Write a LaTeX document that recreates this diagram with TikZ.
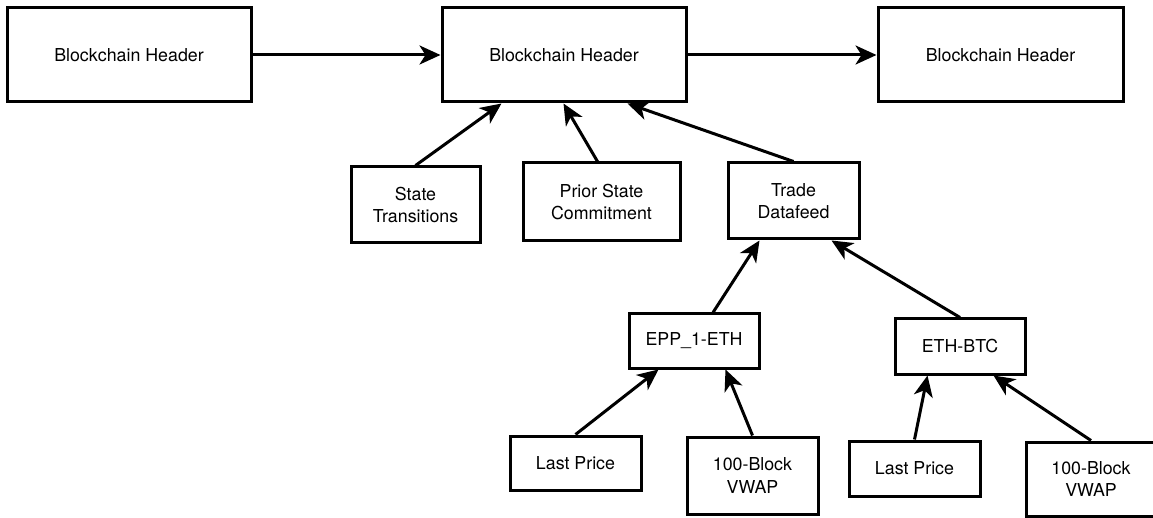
\documentclass[tikz,border=0pt]{standalone}
\usepackage{fontspec}
\setmainfont{TeX Gyre Heros}
\usetikzlibrary{arrows.meta}
\begin{document}
\begin{tikzpicture}[x=1pt,y=-1pt,
  box/.style={draw=black,line width=3pt,rectangle,align=center,inner sep=0pt,
    font=\fontsize{17.8pt}{22.7pt}\selectfont},
  conn/.style={line width=3pt,-{Stealth[length=21pt,width=19pt,inset=6pt]}}]
\useasboundingbox (0,0) rectangle (1153,518);
\node[box,minimum width=244pt,minimum height=94pt] (b1) at (129,55) {Blockchain Header};
\node[box,minimum width=244pt,minimum height=94pt] (b2) at (564,55) {Blockchain Header};
\node[box,minimum width=245pt,minimum height=94pt] (b3) at (1000.5,55) {Blockchain Header};
\node[box,minimum width=129pt,minimum height=76pt] (st) at (415.5,205) {State\\Transitions};
\node[box,minimum width=157pt,minimum height=78pt] (ps) at (601.5,202) {Prior State\\Commitment};
\node[box,minimum width=131pt,minimum height=76pt] (td) at (793.5,201) {Trade\\Datafeed};
\node[box,minimum width=130pt,minimum height=54pt] (epp) at (694,341) {EPP\_1-ETH};
\node[box,minimum width=130pt,minimum height=55pt] (eb) at (960,346.5) {ETH-BTC};
\node[box,minimum width=131pt,minimum height=54pt] (lp1) at (575.5,463) {Last Price};
\node[box,minimum width=131pt,minimum height=77pt] (vw1) at (752.5,475.5) {100-Block\\VWAP};
\node[box,minimum width=131pt,minimum height=55pt] (lp2) at (914.5,468.5) {Last Price};
\node[box,minimum width=130pt,minimum height=74pt] (vw2) at (1091,479) {100-Block\\VWAP};
\draw[conn] (b1.east) -- (b2.west);
\draw[conn] (b2.east) -- (b3.west);
\draw[conn] (st.north) -- ([xshift=61pt]b2.south west);
\draw[conn] ([xshift=-4pt]ps.north) -- ([xshift=123pt]b2.south west);
\draw[conn] (td.north) -- ([xshift=187pt]b2.south west);
\draw[conn] ([xshift=19pt]epp.north) -- ([xshift=33pt]td.south west);
\draw[conn] (eb.north) -- ([xshift=105pt]td.south west);
\draw[conn] (lp1.north) -- ([xshift=31pt]epp.south west);
\draw[conn] (vw1.north) -- ([xshift=98pt]epp.south west);
\draw[conn] (lp2.north) -- ([xshift=34pt]eb.south west);
\draw[conn] (vw2.north) -- ([xshift=100pt]eb.south west);
\end{tikzpicture}
\end{document}
